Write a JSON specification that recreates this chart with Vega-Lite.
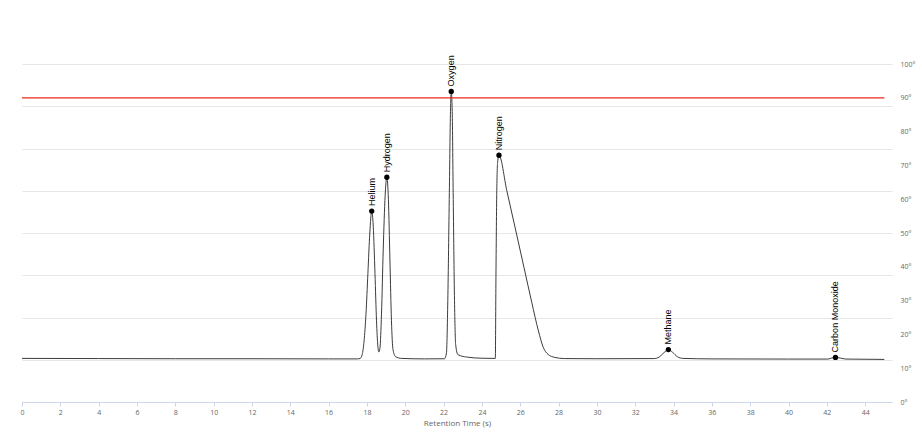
{
  "$schema": "https://vega.github.io/schema/vega-lite/v6.json",
  "width": 870,
  "height": 338,
  "autosize": {"type": "none"},
  "padding": {"left": 22, "top": 64, "right": 30, "bottom": 32},
  "background": "white",
  "config": {"view": {"stroke": null}, "font": "Open Sans"},
  "datasets": {
    "curve": [
      {"t": 0, "v": 12.9}, {"t": 4, "v": 12.85}, {"t": 8, "v": 12.8}, {"t": 12, "v": 12.8}, {"t": 16, "v": 12.75},
      {"t": 17.5, "v": 12.75}, {"t": 17.65, "v": 12.9}, {"t": 17.75, "v": 14}, {"t": 17.85, "v": 18}, {"t": 17.95, "v": 26},
      {"t": 18.05, "v": 38}, {"t": 18.15, "v": 50}, {"t": 18.25, "v": 56.5}, {"t": 18.33, "v": 52}, {"t": 18.42, "v": 38},
      {"t": 18.5, "v": 24}, {"t": 18.57, "v": 16.5}, {"t": 18.62, "v": 14.8}, {"t": 18.68, "v": 16}, {"t": 18.76, "v": 26},
      {"t": 18.85, "v": 45}, {"t": 18.95, "v": 61}, {"t": 19.04, "v": 66.5}, {"t": 19.12, "v": 60}, {"t": 19.2, "v": 42},
      {"t": 19.28, "v": 24}, {"t": 19.36, "v": 15.5}, {"t": 19.5, "v": 13.4}, {"t": 19.8, "v": 12.9}, {"t": 21, "v": 12.75},
      {"t": 22.05, "v": 12.8}, {"t": 22.15, "v": 14.5}, {"t": 22.22, "v": 30}, {"t": 22.3, "v": 62}, {"t": 22.36, "v": 86},
      {"t": 22.4, "v": 91.9}, {"t": 22.45, "v": 86}, {"t": 22.5, "v": 62}, {"t": 22.57, "v": 30}, {"t": 22.63, "v": 17},
      {"t": 22.75, "v": 14}, {"t": 23.2, "v": 13.3}, {"t": 24, "v": 12.95}, {"t": 24.7, "v": 12.9}, {"t": 24.73, "v": 35},
      {"t": 24.77, "v": 60}, {"t": 24.82, "v": 71}, {"t": 24.89, "v": 73.0}, {"t": 25.3, "v": 62.5}, {"t": 25.76, "v": 50.9}, {"t": 26.2, "v": 39.7},
      {"t": 26.6, "v": 29.5}, {"t": 26.95, "v": 21}, {"t": 27.2, "v": 16.2}, {"t": 27.45, "v": 14.1}, {"t": 27.8, "v": 13.2},
      {"t": 28.3, "v": 12.85}, {"t": 30, "v": 12.8}, {"t": 33, "v": 12.85}, {"t": 33.25, "v": 13.3}, {"t": 33.5, "v": 14.6},
      {"t": 33.73, "v": 15.5}, {"t": 33.95, "v": 14.7}, {"t": 34.2, "v": 13.4}, {"t": 34.5, "v": 12.9}, {"t": 36, "v": 12.75},
      {"t": 40, "v": 12.7}, {"t": 42.05, "v": 12.7}, {"t": 42.25, "v": 13.0}, {"t": 42.45, "v": 13.2}, {"t": 42.7, "v": 13.0},
      {"t": 43.0, "v": 12.7}, {"t": 45, "v": 12.6}
    ],
    "peaks": [
      {"name": "Helium", "t": 18.25, "v": 56.5},
      {"name": "Hydrogen", "t": 19.04, "v": 66.5},
      {"name": "Oxygen", "t": 22.4, "v": 91.9},
      {"name": "Nitrogen", "t": 24.89, "v": 73.0},
      {"name": "Methane", "t": 33.73, "v": 15.5},
      {"name": "Carbon Monoxide", "t": 42.45, "v": 13.2}
    ],
    "threshold": [{"t0": 0, "t1": 45, "v": 90}]
  },
  "layer": [
    {
      "data": {"name": "curve"},
      "mark": {"type": "line", "interpolate": "monotone", "color": "#3c3c3c", "strokeWidth": 1},
      "encoding": {
        "x": {
          "field": "t", "type": "quantitative",
          "scale": {"domain": [0, 45.4], "nice": false, "zero": false},
          "axis": {
            "values": [0, 2, 4, 6, 8, 10, 12, 14, 16, 18, 20, 22, 24, 26, 28, 30, 32, 34, 36, 38, 40, 42, 44],
            "tickCount": 40,
            "title": "Retention Time (s)", "grid": false, "labelOverlap": false, "labelFlush": false,
            "domainColor": "#ccd6eb", "tickColor": "#ccd6eb", "tickSize": 4,
            "labelFontSize": 7, "labelColor": "#666666", "labelPadding": 2,
            "titleFontSize": 8, "titleColor": "#666666", "titleFontWeight": "normal", "titlePadding": 4
          }
        },
        "y": {
          "field": "v", "type": "quantitative",
          "scale": {"domain": [0, 100], "nice": false},
          "axis": {
            "orient": "left", "values": [0, 12.5, 25, 37.5, 50, 62.5, 75, 87.5, 100], "tickCount": 20,
            "grid": true, "gridColor": "#e6e6e6", "labels": false, "ticks": false, "domain": false, "title": null
          }
        }
      }
    },
    {
      "data": {"name": "threshold"},
      "mark": {"type": "rule", "color": "#ee2a1b", "strokeWidth": 1.3},
      "encoding": {
        "x": {"field": "t0", "type": "quantitative"},
        "x2": {"field": "t1"},
        "y": {
          "field": "v", "type": "quantitative",
          "scale": {"domain": [0, 100], "nice": false},
          "axis": {
            "orient": "right", "values": [0, 10, 20, 30, 40, 50, 60, 70, 80, 90, 100], "tickCount": 20,
            "labelExpr": "datum.label + '°'", "grid": false, "ticks": false, "domain": false, "title": null,
            "labelOverlap": false, "labelFontSize": 7, "labelColor": "#666666", "labelPadding": 8
          }
        }
      }
    },
    {
      "data": {"name": "peaks"},
      "mark": {"type": "point", "filled": true, "color": "#000000", "size": 28, "opacity": 1},
      "encoding": {
        "x": {"field": "t", "type": "quantitative"},
        "y": {"field": "v", "type": "quantitative", "scale": {"domain": [0, 100], "nice": false}, "axis": null}
      }
    },
    {
      "data": {"name": "peaks"},
      "mark": {"type": "text", "angle": 270, "align": "left", "baseline": "middle", "dx": 5, "fontSize": 9, "font": "Liberation Sans", "color": "#000000"},
      "encoding": {
        "x": {"field": "t", "type": "quantitative"},
        "y": {"field": "v", "type": "quantitative", "scale": {"domain": [0, 100], "nice": false}, "axis": null},
        "text": {"field": "name"}
      }
    }
  ],
  "resolve": {"scale": {"y": "independent"}, "axis": {"y": "independent"}}
}
